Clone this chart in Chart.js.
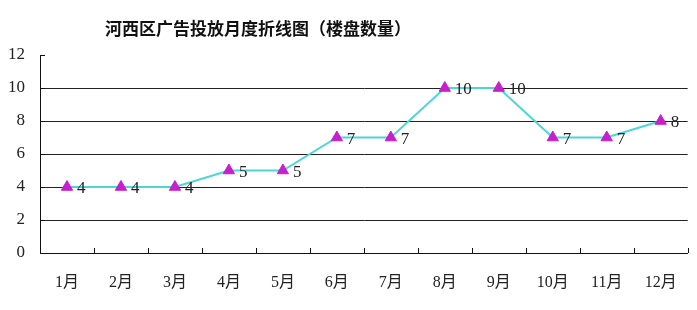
<!DOCTYPE html>
<html>
<head>
<meta charset="utf-8">
<script src="https://cdn.jsdelivr.net/npm/chart.js@4/dist/chart.umd.min.js"></script>
<style>
  html, body { margin: 0; padding: 0; background: #ffffff; }
  #wrap { position: relative; width: 697px; height: 310px; }
</style>
</head>
<body>
<div id="wrap"><canvas id="c" width="697" height="310"></canvas></div>
<script>
// Monthly count of advertised property projects, Hexi district
const titleText = '河西区广告投放月度折线图（楼盘数量）';
const months = ['1月', '2月', '3月', '4月', '5月', '6月', '7月', '8月', '9月', '10月', '11月', '12月'];
const projectCounts = [4, 4, 4, 5, 5, 7, 7, 10, 10, 7, 7, 8];
const yTicks = [0, 2, 4, 6, 8, 10, 12];

const serif = "'Liberation Serif', 'DejaVu Serif', 'Noto Sans CJK SC', serif";

// Title drawn left of centre, above the plot
const titlePlugin = {
  id: 'titleText',
  afterDraw(chart) {
    const ctx = chart.ctx;
    ctx.save();
    ctx.font = "bold 17px 'Noto Sans CJK SC', sans-serif";
    ctx.fillStyle = '#111';
    ctx.textAlign = 'center';
    ctx.textBaseline = 'middle';
    ctx.fillText(titleText, 258, 29);
    ctx.restore();
  }
};

// Short inward tick marks on both axes
const innerTicks = {
  id: 'innerTicks',
  afterDraw(chart) {
    const ctx = chart.ctx;
    const x = chart.scales.x, y = chart.scales.y;
    const area = chart.chartArea;
    ctx.save();
    ctx.strokeStyle = '#111';
    ctx.lineWidth = 1;
    ctx.beginPath();
    const n = months.length;
    const step = (x.right - x.left) / n;
    for (let i = 1; i <= n; i++) {
      const px = Math.round(x.left + i * step) + 0.5;
      ctx.moveTo(px, area.bottom);
      ctx.lineTo(px, area.bottom - 5);
    }
    yTicks.forEach(v => {
      const py = Math.round(y.getPixelForValue(v)) + 0.5;
      ctx.moveTo(area.left, py);
      ctx.lineTo(area.left + 5, py);
    });
    ctx.stroke();
    ctx.restore();
  }
};

// Value labels to the right of each marker
const valueLabels = {
  id: 'valueLabels',
  afterDatasetsDraw(chart) {
    const ctx = chart.ctx;
    const meta = chart.getDatasetMeta(0);
    ctx.save();
    ctx.font = '17px ' + serif;
    ctx.fillStyle = '#222';
    ctx.textAlign = 'left';
    ctx.textBaseline = 'middle';
    meta.data.forEach((pt, i) => {
      ctx.fillText(String(projectCounts[i]), pt.x + 10, pt.y + 2);
    });
    ctx.restore();
  }
};

new Chart(document.getElementById('c'), {
  type: 'line',
  data: {
    labels: months,
    datasets: [{
      data: projectCounts,
      borderColor: '#4dd6d6',
      borderWidth: 2,
      tension: 0,
      pointStyle: 'triangle',
      pointRadius: 6.5,
      pointBackgroundColor: '#c61fcc',
      pointBorderColor: '#c61fcc',
      pointBorderWidth: 1
    }]
  },
  options: {
    responsive: false,
    animation: false,
    layout: { padding: { top: 55, left: 0, right: 7, bottom: 0 } },
    plugins: {
      legend: { display: false },
      title: { display: false },
      tooltip: { enabled: false }
    },
    scales: {
      x: {
        type: 'category',
        offset: true,
        afterFit(scale) { scale.height = 57; },
        grid: { display: false, drawTicks: false },
        border: { display: true, color: '#111', width: 1 },
        ticks: {
          padding: 20,
          color: '#222',
          font: { family: serif, size: 16 },
          maxRotation: 0,
          autoSkip: false
        }
      },
      y: {
        min: 0,
        max: 12,
        afterFit(scale) { scale.width = 40; },
        afterBuildTicks(scale) { scale.ticks = yTicks.map(v => ({ value: v })); },
        grid: {
          drawTicks: false,
          color: ctx => (ctx.tick && (ctx.tick.value === 0 || ctx.tick.value === 12)) ? 'rgba(0,0,0,0)' : '#222',
          lineWidth: 1
        },
        border: { display: true, color: '#111', width: 1 },
        ticks: {
          padding: 15,
          color: '#222',
          font: { family: serif, size: 17 }
        }
      }
    }
  },
  plugins: [titlePlugin, innerTicks, valueLabels]
});
</script>
</body>
</html>
